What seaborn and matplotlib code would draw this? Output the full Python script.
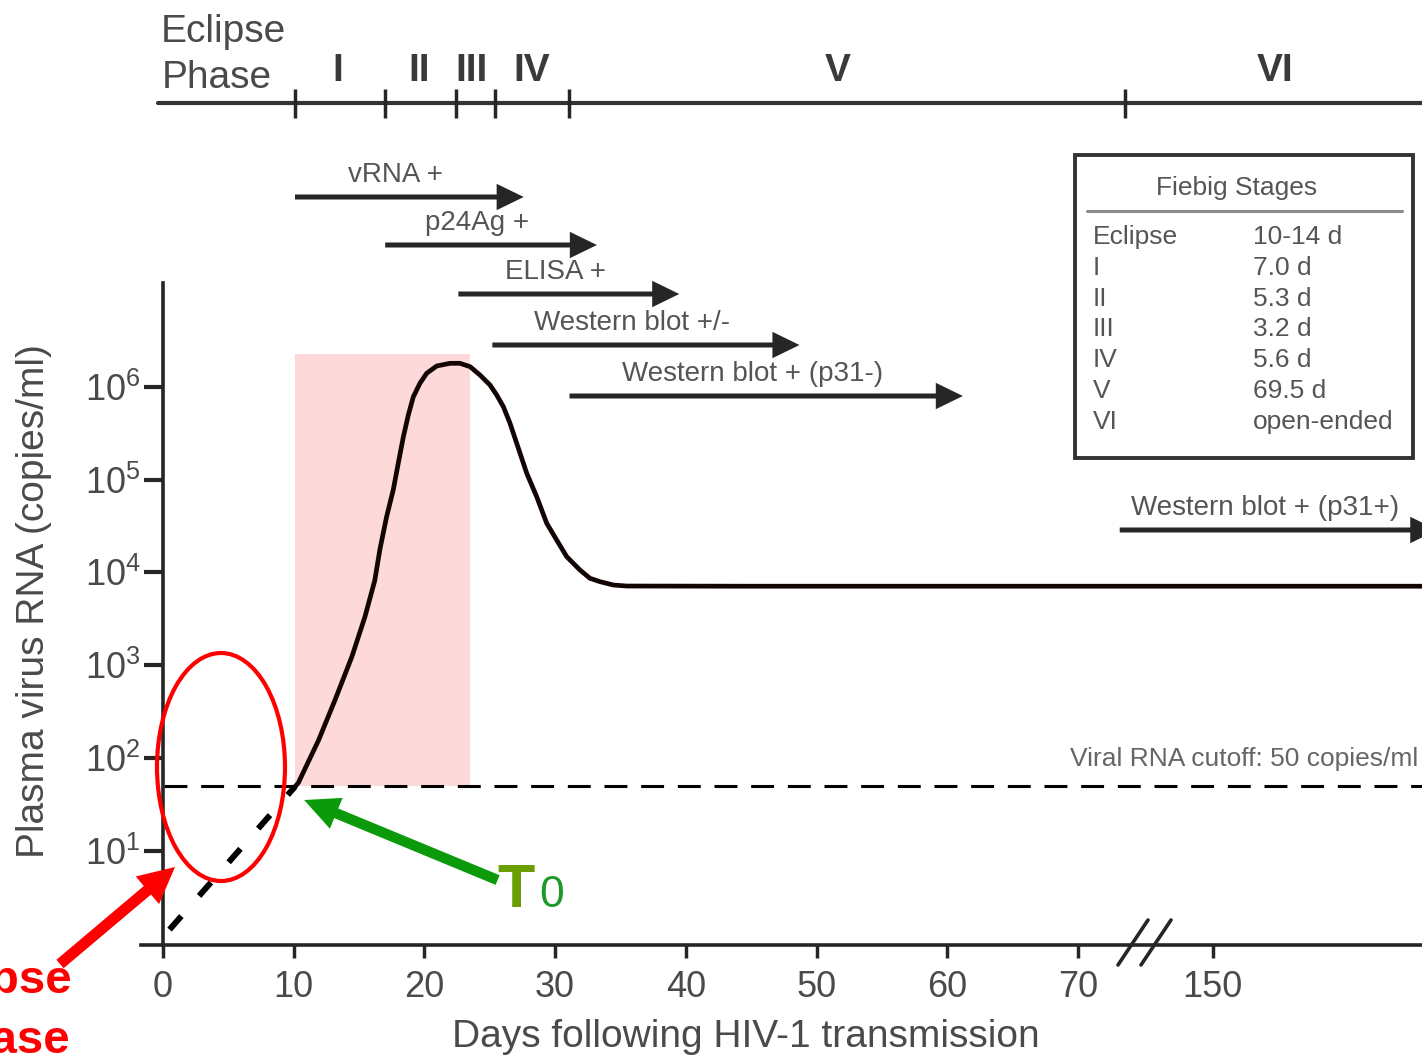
import numpy as np
import pandas as pd
import matplotlib
matplotlib.use("Agg")
import matplotlib.pyplot as plt
import matplotlib.transforms as mtransforms
from matplotlib.patches import Ellipse, Rectangle
from matplotlib.ticker import NullLocator
import seaborn as sns

# ---------------- data ----------------
curve_days = [10.1, 10.35, 11.9, 13.15, 14.45, 15.45, 16.2, 16.6, 17.11, 17.62,
              18.0, 18.39, 18.77, 19.15, 19.66, 20.17, 20.94, 21.96, 22.72, 23.49,
              24.25, 25.02, 25.53, 26.04, 26.55, 27.32, 27.83, 28.59, 29.36, 30.12,
              30.89, 31.9, 32.67, 33.44, 34.45, 35.48, 45.0, 60.0, 80.0, 96.4]
curve_log10 = [1.69, 1.73, 2.19, 2.62, 3.09, 3.52, 3.91, 4.25, 4.60, 4.89,
               5.175, 5.46, 5.695, 5.89, 6.037, 6.144, 6.223, 6.252, 6.252, 6.216,
               6.126, 6.018, 5.911, 5.785, 5.606, 5.282, 5.067, 4.815, 4.528, 4.348,
               4.168, 4.025, 3.935, 3.899, 3.863, 3.852, 3.85, 3.85, 3.85, 3.85]
eclipse_days = [0.5, 10.1]
eclipse_log10 = [0.15, 1.69]
cutoff_copies = 50
shade_days = [10.1, 23.5]
shade_top_log10 = 6.35

xtick_pos = [0, 10, 20, 30, 40, 50, 60, 70, 80.3]
xtick_labels = ["0", "10", "20", "30", "40", "50", "60", "70", "150"]
ytick_exp = [1, 2, 3, 4, 5, 6]

phase_bounds = [10.1, 17.0, 22.4, 25.4, 31.1, 73.6]
phase_names = ["I", "II", "III", "IV", "V", "VI"]
phase_label_days = [13.4, 19.6, 23.6, 28.2, 51.6, 85.1]

assay_labels = ["vRNA +", "p24Ag +", "ELISA +", "Western blot +/-",
                "Western blot + (p31-)", "Western blot + (p31+)"]
assay_start = [10.1, 17.0, 22.6, 25.2, 31.1, 73.2]
assay_end = [27.6, 33.2, 39.5, 48.7, 61.2, 97.5]

fiebig_stages = ["Eclipse", "I", "II", "III", "IV", "V", "VI"]
fiebig_durations = ["10-14 d", "7.0 d", "5.3 d", "3.2 d", "5.6 d", "69.5 d", "open-ended"]

# ---------------- layout helpers ----------------
W, H = 1422, 1056
X0, PXD = 163.0, 13.07      # px of day 0, px per day
Y1, PXDEC = 850.7, 92.8     # px of 10^1, px per decade


def fx(px):
    return px / W


def fy(py):
    return 1 - py / H


sns.set_theme(style="white")
plt.rcParams["font.family"] = ["Liberation Sans", "DejaVu Sans"]
plt.rcParams["mathtext.fontset"] = "custom"
plt.rcParams["mathtext.rm"] = "Liberation Sans"
plt.rcParams["mathtext.it"] = "Liberation Sans"
plt.rcParams["mathtext.default"] = "regular"

TXT = "#4a4a4a"
DARK = "#262626"

fig = plt.figure(figsize=(W / 100, H / 100), dpi=100)
ax = fig.add_axes([0, 0, 1, 1])
ax.set_yscale("log")
ax.set_facecolor("white")
blend = mtransforms.blended_transform_factory(ax.transData, ax.transAxes)

# shaded region
ax.fill_between(shade_days, cutoff_copies, 10 ** shade_top_log10,
                color="#fdd9d9", lw=0, zorder=0)

# viral load curve
df = pd.DataFrame({"day": curve_days, "copies": 10 ** np.array(curve_log10)})
sns.lineplot(data=df, x="day", y="copies", ax=ax, color="#140505", lw=3.4,
             sort=False, zorder=3)

# eclipse phase (below detection)
ax.plot(eclipse_days, 10 ** np.array(eclipse_log10), color="black", lw=4.3,
        ls=(0, (3.0, 4.5)), zorder=3)

# detection cutoff
ax.axhline(cutoff_copies, xmin=fx(164), xmax=1, color="black", lw=2.2,
           ls=(0, (7.5, 4.5)), zorder=2)
ax.text(fx(1070), fy(759), "Viral RNA cutoff: 50 copies/ml", transform=ax.transAxes,
        ha="left", va="center", fontsize=19, color="#666666")

# axes
ax.spines["top"].set_visible(False)
ax.spines["right"].set_visible(False)
ax.spines["left"].set_position(("data", 0))
ax.spines["bottom"].set_position(("data", 10 ** -0.016))
ax.spines["left"].set_bounds(10 ** -0.02, 10 ** 7.12)
ax.spines["bottom"].set_bounds(-1.65, 96.4)
for s in ("left", "bottom"):
    ax.spines[s].set_linewidth(2.6)
    ax.spines[s].set_color(DARK)

ax.set_xticks(xtick_pos)
ax.set_xticklabels(xtick_labels)
ax.set_yticks([10.0 ** e for e in ytick_exp])
ax.set_yticklabels([r"$10^{%d}$" % e for e in ytick_exp])
ax.yaxis.set_minor_locator(NullLocator())
ax.xaxis.set_minor_locator(NullLocator())
ax.tick_params(axis="x", direction="out", length=9, width=2.5, pad=9,
               labelsize=26, color=DARK, labelcolor=TXT, bottom=True)
ax.tick_params(axis="y", direction="out", length=14, width=3, pad=2,
               labelsize=26, color=DARK, labelcolor=TXT, left=True)

ax.set_xlabel("Days following HIV-1 transmission", fontsize=28, color=TXT)
ax.xaxis.set_label_coords(fx(746), fy(1019))
ax.set_ylabel("Plasma virus RNA (copies/ml)", fontsize=28, color=TXT)
ax.yaxis.set_label_coords(fx(52), fy(601))

# axis break marks
for x0 in (1118, 1141):
    ax.plot([fx(x0), fx(x0 + 30)], [fy(965), fy(920)], transform=ax.transAxes,
            color=DARK, lw=2.6, clip_on=False, zorder=4)

# ---------------- Fiebig phase bar ----------------
ax.plot([-0.4, 96.4], [fy(103), fy(103)], transform=blend, color="#333333",
        lw=3, clip_on=False)
ax.vlines(phase_bounds, fy(118), fy(89), transform=blend, color=DARK, lw=2.5)
ax.text(fx(161), fy(42), "Eclipse", transform=ax.transAxes, ha="left",
        va="baseline", fontsize=28, color=TXT)
ax.text(fx(162), fy(88), "Phase", transform=ax.transAxes, ha="left",
        va="baseline", fontsize=28, color=TXT)
for name, d in zip(phase_names, phase_label_days):
    ax.text(d, fy(81), name, transform=blend, ha="center", va="baseline",
            fontsize=28, fontweight="bold", color="#3a3a3a")

# ---------------- assay arrows ----------------
rows_px = [197, 245, 294, 345, 396, 530]
head_days = 27 / PXD
for lab, s, e, rp in zip(assay_labels, assay_start, assay_end, rows_px):
    ax.annotate("", xy=(e, fy(rp)), xytext=(s, fy(rp)), xycoords=blend,
                textcoords=blend, annotation_clip=False,
                arrowprops=dict(arrowstyle="simple,head_length=1.95,head_width=1.9,tail_width=0.36",
                                mutation_scale=10, fc="#262626", ec="none",
                                shrinkA=0, shrinkB=0))
    ax.text((s + e - head_days) / 2, fy(rp - 22), lab, transform=blend,
            ha="center", va="center", fontsize=20, color="#555555")

# ---------------- Fiebig legend box ----------------
ax.add_patch(Rectangle((fx(1075), fy(458)), fx(1413) - fx(1075), (458 - 155) / H,
                       transform=ax.transAxes, fill=False, ec="#333333", lw=2.8))
ax.text(fx(1237), fy(188), "Fiebig Stages", transform=ax.transAxes, ha="center",
        va="center", fontsize=19, color="#555555")
ax.plot([fx(1087), fx(1402)], [fy(211), fy(211)], transform=ax.transAxes,
        color="#8a8a8a", lw=2.2)
for i, (st, du) in enumerate(zip(fiebig_stages, fiebig_durations)):
    yy = fy(237 + i * 30.8)
    ax.text(fx(1093), yy, st, transform=ax.transAxes, ha="left", va="center",
            fontsize=19, color="#555555")
    ax.text(fx(1253), yy, du, transform=ax.transAxes, ha="left", va="center",
            fontsize=19, color="#555555")

# ---------------- annotations ----------------
ax.add_patch(Ellipse((fx(221), fy(767)), 128 / W, 228 / H, transform=ax.transAxes,
                     fill=False, ec="red", lw=3, zorder=5))
ax.annotate("", xy=(fx(175), fy(867)), xytext=(fx(60), fy(964)),
            xycoords="axes fraction", textcoords="axes fraction",
            arrowprops=dict(arrowstyle="simple,head_length=2.6,head_width=2.6,tail_width=0.8",
                            mutation_scale=10, fc="red", ec="none",
                            shrinkA=0, shrinkB=0), zorder=6)
ax.text(fx(73), fy(993), "Eclipse", transform=ax.transAxes, ha="right",
        va="baseline", fontsize=34, fontweight="bold", color="red")
ax.text(fx(71), fy(1053), "phase", transform=ax.transAxes, ha="right",
        va="baseline", fontsize=34, fontweight="bold", color="red")

ax.annotate("", xy=(10.8, 10 ** 1.546), xytext=(25.6, 10 ** 0.684),
            arrowprops=dict(arrowstyle="simple,head_length=2.5,head_width=2.4,tail_width=0.75",
                            mutation_scale=10, fc="#0a9a0a", ec="none",
                            shrinkA=0, shrinkB=0), zorder=6)
ax.text(fx(497), fy(907), "T", transform=ax.transAxes, ha="left", va="baseline",
        fontsize=44, fontweight="bold", color="#6a9e00")
ax.text(fx(539), fy(907), "0", transform=ax.transAxes, ha="left", va="baseline",
        fontsize=32, color="#1f9a2a")

ax.set_xlim(-X0 / PXD, (W - X0) / PXD)
ax.set_ylim(10 ** (1 - (H - Y1) / PXDEC), 10 ** (1 + Y1 / PXDEC))

fig.savefig("out.png", dpi=100, facecolor="white")
